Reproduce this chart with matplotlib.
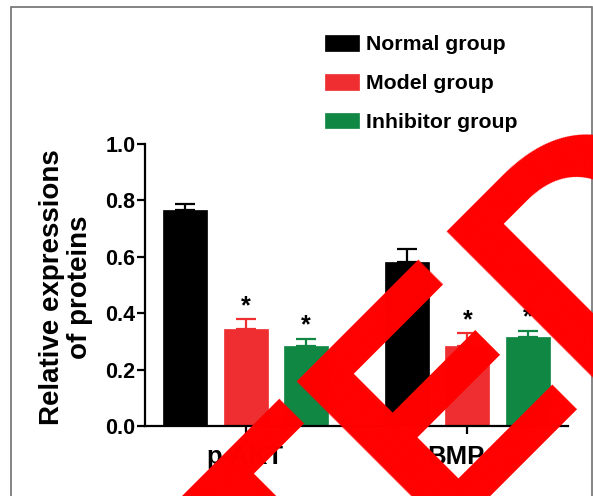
import numpy as np
import matplotlib
matplotlib.use("Agg")
import matplotlib.pyplot as plt
from matplotlib.patches import Rectangle

plt.rcParams['font.family'] = ['Liberation Sans', 'DejaVu Sans']
plt.rcParams['font.weight'] = 'bold'

# data
proteins = ["p-AKT", "BMP"]
groups = ["Normal group", "Model group", "Inhibitor group"]
colors = ["#000000", "#ee2e30", "#108844"]
means = [[0.765, 0.583],   # normal
         [0.345, 0.285],   # model
         [0.285, 0.315]]   # inhibitor
errs = [[0.022, 0.045],
        [0.033, 0.044],
        [0.023, 0.022]]
stars = [False, True, True]

W, H = 593, 496
fig = plt.figure(figsize=(W / 100, H / 100), dpi=100)
ax = fig.add_axes([145 / W, 70 / H, 423 / W, 282 / H])

x = np.arange(len(proteins))
step = 0.2725
width = 0.198

for i in range(len(groups)):
    pos = x + (i - 1) * step
    ax.bar(pos, means[i], width, color=colors[i], edgecolor=colors[i],
           linewidth=0.5, label=groups[i], zorder=2)
    ax.errorbar(pos, means[i], yerr=[np.zeros(len(pos)), errs[i]],
                fmt='none', ecolor=colors[i], elinewidth=1.6,
                capsize=7, capthick=1.6, zorder=1)
    if stars[i]:
        for p, m, e in zip(pos, means[i], errs[i]):
            ax.annotate("*", (p, m + e), xytext=(0, 1), textcoords='offset points',
                        ha='center', va='bottom', fontsize=18, fontweight='bold')

ax.set_xlim(-0.453, 1.453)
ax.set_ylim(0, 1.0)
ax.set_yticks([0.0, 0.2, 0.4, 0.6, 0.8, 1.0])
ax.set_yticklabels(["0.0", "0.2", "0.4", "0.6", "0.8", "1.0"])
ax.set_xticks(x)
ax.set_xticklabels([])
for xi, name, shift in zip(x, proteins, [-1, -12]):
    ax.annotate(name, (xi, 0), xycoords=('data', 'axes fraction'),
                xytext=(shift * 0.72, -14), textcoords='offset points',
                ha='center', va='top', fontsize=18.5, fontweight='bold')

for s in ['top', 'right']:
    ax.spines[s].set_visible(False)
for s in ['left', 'bottom']:
    ax.spines[s].set_linewidth(1.6)
ax.tick_params(direction='out', length=6, width=1.6, labelsize=15.5, pad=1)

fig.text(66 / W, 1 - 287 / H, "Relative expressions\nof proteins", rotation=90,
         ha='center', va='center', multialignment='center',
         fontsize=20, fontweight='bold', linespacing=1.12)

fig.legend(loc='upper left', bbox_to_anchor=(325 / W, 1 - 35 / H), frameon=False,
           fontsize=15.3, handlelength=1.6, handleheight=0.75, handletextpad=0.35,
           labelspacing=0.93, borderpad=0, borderaxespad=0)

# gray frame around the panel
fig.patches.append(Rectangle((10.5 / W, -0.1), 581.5 / W, 1.1 - 6.5 / H,
                             transform=fig.transFigure, fill=False,
                             edgecolor='#707070', linewidth=1.2, zorder=5))

# retraction stamp
fig.text(743 / W, 274 / H, "RETRACTED", rotation=45, rotation_mode='anchor',
         ha='right', va='baseline', color='#ff0000', fontsize=229,
         fontweight='bold', zorder=10)

fig.savefig("out.png", dpi=100)
